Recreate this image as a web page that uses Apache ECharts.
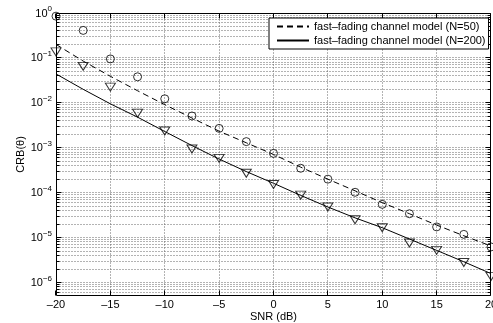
<!DOCTYPE html>
<html><head><meta charset="utf-8">
<script src="https://cdn.jsdelivr.net/npm/echarts@6/dist/echarts.min.js"></script>
<style>html,body{margin:0;padding:0;background:#fff}#c{width:493px;height:323px}</style>
</head><body><div id="c"></div>
<script>
// SNR (dB) sample positions
const snr = [-20, -17.5, -15, -12.5, -10, -7.5, -5, -2.5, 0, 2.5, 5, 7.5, 10, 12.5, 15, 17.5, 20];
// Curves
const crbN50Line = [0.20, 0.085, 0.039, 0.0186, 0.0091, 0.0046, 0.00234, 0.00129, 7.1e-4, 3.7e-4, 2.0e-4, 1.1e-4, 6.0e-5, 3.4e-5, 1.9e-5, 1.1e-5, 6.5e-6];
const crbN200Line = [0.044, 0.020, 0.0095, 0.0048, 0.0023, 0.00112, 5.6e-4, 2.95e-4, 1.62e-4, 8.7e-5, 4.8e-5, 2.75e-5, 1.66e-5, 9.3e-6, 5.2e-6, 2.9e-6, 1.58e-6];
// Markers
const crbN50Marks = [0.85, 0.41, 0.095, 0.038, 0.0123, 0.0051, 0.0027, 0.00137, 7.5e-4, 3.5e-4, 2.0e-4, 1.02e-4, 5.5e-5, 3.4e-5, 1.73e-5, 1.18e-5, 6.2e-6];
const crbN200Marks = [0.136, 0.065, 0.0224, 0.0059, 0.00237, 9.4e-4, 5.8e-4, 2.7e-4, 1.52e-4, 8.8e-5, 4.8e-5, 2.5e-5, 1.66e-5, 7.6e-6, 5.2e-6, 2.8e-6, 1.37e-6];
// Axis ticks
const xTicks = [-20, -15, -10, -5, 0, 5, 10, 15, 20];
const yDecades = [0, -1, -2, -3, -4, -5, -6];
const legendNames = ['fast\u2013fading channel model (N=50)', 'fast\u2013fading channel model (N=200)'];

const X_MIN = -20, X_MAX = 20, Y_MIN = -6.3, Y_MAX = 0;
const FONT = '"Liberation Sans", Arial, Helvetica, sans-serif';

const toPts = (vals) => snr.map((x, i) => [x, Math.log10(vals[i])]);
const snap = v => Math.floor(v) + 0.5;

function renderFrame(params, api) {
  const tl = api.coord([X_MIN, Y_MAX]);
  const br = api.coord([X_MAX, Y_MIN]);
  const L = snap(tl[0]), T = snap(tl[1]), R = snap(br[0] - 0.01), B = snap(br[1] - 0.01);
  const ch = [];
  const dot = {stroke: '#666', lineWidth: 1, lineDash: [1, 2], fill: null};
  const solid = {stroke: '#000', lineWidth: 1, fill: null};
  for (let n = -7; n <= 0; n++) {
    for (let k = 1; k <= 9; k++) {
      const v = n + Math.log10(k);
      if (v < Y_MIN - 1e-9 || v > Y_MAX + 1e-9) continue;
      const y = snap(api.coord([0, v])[1]);
      ch.push({type: 'line', shape: {x1: L, y1: y, x2: R, y2: y}, style: dot, silent: true});
      const len = (k === 1) ? 5 : 3;
      ch.push({type: 'line', shape: {x1: L, y1: y, x2: L + len, y2: y}, style: solid, silent: true});
      ch.push({type: 'line', shape: {x1: R, y1: y, x2: R - len, y2: y}, style: solid, silent: true});
    }
  }
  xTicks.forEach(t => {
    const x = snap(api.coord([t, 0])[0] - 0.01);
    if (t !== X_MIN && t !== X_MAX) {
      ch.push({type: 'line', shape: {x1: x, y1: T, x2: x, y2: B}, style: dot, silent: true});
    }
    ch.push({type: 'line', shape: {x1: x, y1: B, x2: x, y2: B - 5}, style: solid, silent: true});
    ch.push({type: 'line', shape: {x1: x, y1: T, x2: x, y2: T + 5}, style: solid, silent: true});
  });
  ch.push({type: 'rect', shape: {x: L, y: T, width: R - L, height: B - T}, style: solid, silent: true});
  return {type: 'group', children: ch};
}

const chart = echarts.init(document.getElementById('c'), null, {renderer: 'canvas'});
chart.setOption({
  animation: false,
  backgroundColor: '#fff',
  textStyle: {fontFamily: FONT},
  grid: {left: 56, right: 2, top: 13, bottom: 27, containLabel: false, outerBoundsMode: 'none'},
  legend: {
    data: legendNames,
    left: 269, top: 18,
    orient: 'vertical',
    backgroundColor: '#fff',
    borderColor: '#000', borderWidth: 1, borderRadius: 0,
    padding: [3, 3, 3, 7],
    itemWidth: 32, itemHeight: 10, itemGap: 3,
    itemStyle: {opacity: 0},
    textStyle: {fontSize: 11, color: '#000', fontFamily: FONT}
  },
  xAxis: {
    type: 'value', min: X_MIN, max: X_MAX, interval: 5,
    axisLine: {show: false}, axisTick: {show: false}, splitLine: {show: false},
    axisLabel: {fontSize: 11, color: '#000', margin: 3, fontFamily: FONT,
      formatter: v => v < 0 ? '\u2013' + (-v) : String(v)},
    name: 'SNR (dB)', nameLocation: 'middle', nameGap: 15, nameMoveOverlap: false,
    nameTextStyle: {fontSize: 11, color: '#000', fontFamily: FONT}
  },
  yAxis: {
    type: 'value', min: Y_MIN, max: Y_MAX, interval: 0.1,
    axisLine: {show: false}, axisTick: {show: false}, splitLine: {show: false},
    axisLabel: {
      margin: 4, color: '#000', fontFamily: FONT,
      formatter: v => {
        const r = Math.round(v);
        if (Math.abs(v - r) > 1e-6 || yDecades.indexOf(r) < 0) return '';
        return '{b|10}{s|' + (r === 0 ? '0' : '\u2212' + (-r)) + '}';
      },
      rich: {
        b: {fontSize: 11, color: '#000', fontFamily: FONT, verticalAlign: 'bottom', lineHeight: 12},
        s: {fontSize: 8, color: '#000', fontFamily: FONT, verticalAlign: 'bottom', padding: [0, 0, 6, 0], lineHeight: 9}
      }
    },
    name: 'CRB(\u03b8)', nameLocation: 'middle', nameGap: 30, nameMoveOverlap: false,
    nameTextStyle: {fontSize: 11, color: '#000', fontFamily: FONT}
  },
  series: [
    {type: 'custom', renderItem: renderFrame, data: [[0, -3]], clip: false, silent: true, z: 0},
    {name: legendNames[0], type: 'line', data: toPts(crbN50Line), symbol: 'none', smooth: false,
      lineStyle: {color: '#000', width: 1, type: [6, 4]}, itemStyle: {color: '#000'}, z: 3},
    {name: legendNames[1], type: 'line', data: toPts(crbN200Line), symbol: 'none', smooth: false,
      lineStyle: {color: '#000', width: 1, type: 'solid'}, itemStyle: {color: '#000'}, z: 3},
    {name: 'N50 markers', type: 'scatter', data: toPts(crbN50Marks), symbol: 'circle', symbolSize: 8, clip: false,
      itemStyle: {color: 'rgba(0,0,0,0)', borderColor: '#000', borderWidth: 1}, z: 4},
    {name: 'N200 markers', type: 'scatter', data: toPts(crbN200Marks), symbol: 'triangle', symbolRotate: 180,
      symbolSize: [10, 8], clip: false,
      itemStyle: {color: 'rgba(0,0,0,0)', borderColor: '#000', borderWidth: 1}, z: 4}
  ]
});
</script>
</body></html>
